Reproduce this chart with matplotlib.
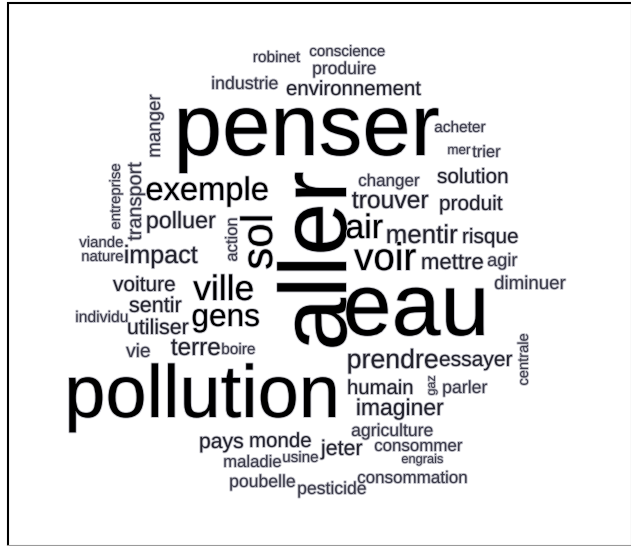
import matplotlib
matplotlib.use("Agg")
import matplotlib.pyplot as plt
import matplotlib.patheffects as pe

# ---- data: words and their (relative) frequencies ----
words = ["robinet", "conscience", "produire", "industrie", "environnement", "penser",
         "manger", "acheter", "mer", "trier", "solution", "changer", "trouver", "produit",
         "exemple", "entreprise", "transport", "polluer", "action", "sol", "aller",
         "viande", "nature", "impact", "voiture", "ville", "sentir", "individu", "gens",
         "utiliser", "terre", "boire", "vie", "air", "mentir", "risque", "voir", "mettre",
         "agir", "diminuer", "eau", "prendre", "essayer", "centrale", "pollution", "humain",
         "gaz", "parler", "imaginer", "agriculture", "jeter", "consommer", "engrais",
         "consommation", "pesticide", "pays", "monde", "maladie", "usine", "poubelle"]
freq = [15.5, 15.2, 17.5, 17.8, 20.4, 87,
        18.7, 15.4, 13.4, 16.5, 20.8, 17, 24.7, 20.8,
        32.7, 14.9, 19.9, 23.3, 16.6, 44, 95,
        15, 14.9, 25.1, 20.9, 35.4, 21.6, 15.7, 31.6,
        21.4, 24.3, 15.4, 19.2, 34, 25.9, 20.8, 38.6, 22.2,
        18.2, 18.7, 88, 26.7, 21, 14.7, 74, 20.3,
        12.5, 17.7, 22.9, 17.6, 21.4, 16.9, 12.8,
        17, 17.6, 21.2, 20.5, 16.7, 15.2, 17.6]

# ---- layout (pixel coordinates of the word cloud placement) ----
layout_x = [253.5, 310, 313, 212, 287, 178,
            160, 435, 448, 473, 438, 359, 353, 440,
            147, 120, 141, 147, 237, 272, 346,
            80, 82, 125, 114, 195, 130, 76, 193,
            128, 172, 222, 127, 347, 387, 463, 356, 422,
            488, 495, 347, 348, 440, 528, 68, 348,
            435, 443, 357, 352, 322, 375, 402,
            358, 298, 200, 250, 224, 283, 230]
layout_y = [62, 56, 74, 89, 95, 155,
            157, 132, 154, 157, 183, 186, 208, 210,
            200, 229, 240, 228, 261, 268, 347,
            247, 261, 263, 291, 300, 312, 322, 326,
            334, 355, 354, 357, 238, 243, 243, 270, 269,
            266, 289, 335, 368, 366, 385, 417, 394,
            395, 393, 415, 436, 455, 451, 463,
            483, 494, 448, 447, 467, 462, 487]
vertical = {"manger", "entreprise", "transport", "action", "sol", "aller", "centrale", "gaz"}

W, H = 631, 546
fig = plt.figure(figsize=(W / 100, H / 100), dpi=100)
ax = fig.add_axes([0, 0, 1, 1])
ax.set_xlim(0, W)
ax.set_ylim(H, 0)
ax.axis("off")

# frame
ax.plot([7.5, 7.5], [2, 546], color="black", lw=1.5, solid_capstyle="butt")
ax.plot([7, 631], [2.5, 2.5], color="black", lw=1.5, solid_capstyle="butt")
ax.plot([7, 631], [545, 545], color="#9a9a9a", lw=0.8)
ax.plot([630.5, 630.5], [2, 546], color="#9a9a9a", lw=0.8)


def word_color(f):
    if f >= 30:
        return "#000000"
    if f >= 20:
        return "#22222c"
    return "#3a3a48"


for w, f, x, y in zip(words, freq, layout_x, layout_y):
    fs = f * 0.72  # px -> pt at 100 dpi
    col = word_color(f)
    effects = [pe.withStroke(linewidth=1.3, foreground="#c4c4cc")]
    if w in vertical:
        ax.text(x, y + 0.04 * f, w, fontsize=fs, family="Liberation Sans", color=col,
                rotation=90, rotation_mode="anchor", ha="left", va="baseline",
                path_effects=effects)
    else:
        ax.text(x - 0.05 * f, y, w, fontsize=fs, family="Liberation Sans", color=col,
                ha="left", va="baseline", path_effects=effects)

fig.savefig("out.png", dpi=100)
